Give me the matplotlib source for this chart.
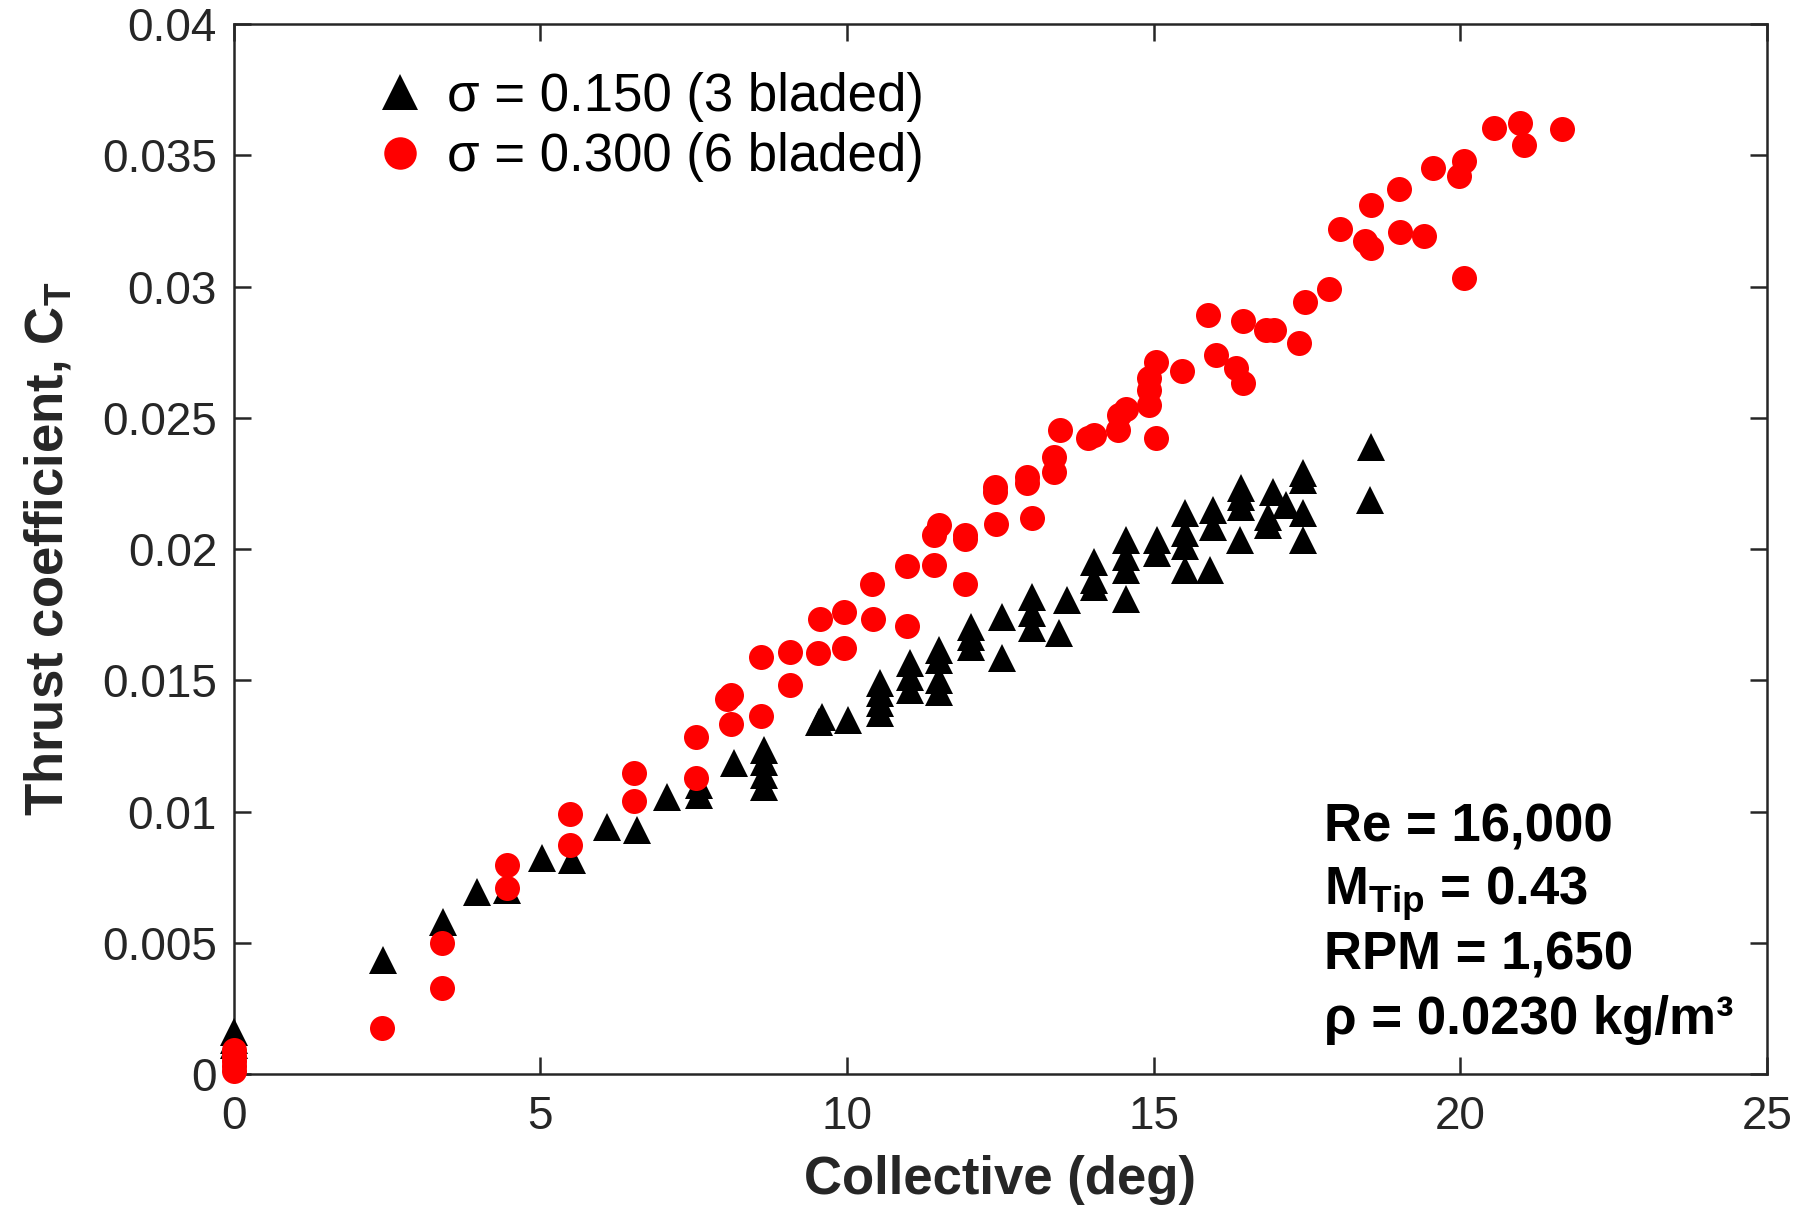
import matplotlib
matplotlib.use("Agg")
import matplotlib.pyplot as plt

plt.rcParams['font.family'] = ['Liberation Sans', 'DejaVu Sans']
plt.rcParams['mathtext.fontset'] = 'custom'
plt.rcParams['mathtext.rm'] = 'Liberation Sans'
plt.rcParams['mathtext.bf'] = 'Liberation Sans:bold'

# sigma = 0.150 (3 bladed)
x_3b = [0, 0, 0, 2.43, 3.41, 3.97, 4.46, 5.02, 5.51, 6.08, 6.57, 7.06, 7.59, 7.59,
        8.15, 8.64, 8.64, 8.64, 8.64, 9.55, 9.59, 10.02,
        10.53, 10.53, 10.53, 10.53, 11.02, 11.02, 11.02, 11.5, 11.5, 11.5, 11.5,
        12.02, 12.02, 12.02, 12.52, 12.53, 13.01, 13.01, 13.01, 13.45, 13.59,
        14.02, 14.02, 14.02, 14.55, 14.55, 14.55, 14.55, 15.05, 15.05,
        15.51, 15.51, 15.51, 15.51, 15.91, 15.97, 15.97, 16.41, 16.42, 16.42, 16.42,
        16.87, 16.87, 16.94, 17.16, 17.43, 17.44, 17.44, 17.44, 18.52, 18.54]
ct_3b = [0.0016, 0.0013, 0.0011, 0.00434, 0.0058, 0.00695, 0.00701, 0.00822, 0.00815,
         0.00942, 0.0093, 0.01057, 0.01063, 0.0110,
         0.01184, 0.01095, 0.0114, 0.0119, 0.01235, 0.0134, 0.0136, 0.01349,
         0.01374, 0.01412, 0.0145, 0.01489, 0.01463, 0.01514, 0.01565, 0.01457, 0.0150, 0.01577, 0.01616,
         0.01628, 0.01666, 0.01704, 0.01584, 0.01742, 0.01698, 0.01755, 0.01819, 0.01679, 0.01806,
         0.01857, 0.01882, 0.01952, 0.0181, 0.0192, 0.0197, 0.02035, 0.01984, 0.02035,
         0.0192, 0.0201, 0.0206, 0.02136, 0.0192, 0.02085, 0.0215, 0.02035, 0.02162, 0.022, 0.02232,
         0.02092, 0.02123, 0.02219, 0.02168, 0.02035, 0.02136, 0.02263, 0.02289, 0.02187, 0.0239]

# sigma = 0.300 (6 bladed)
x_6b = [0, 0, 0, 0, 0, 2.41, 3.40, 3.40, 4.45, 4.45, 5.48, 5.48, 6.53, 6.53, 7.54, 7.54,
        8.05, 8.11, 8.11, 8.59, 8.59, 9.07, 9.07, 9.56, 9.53, 9.95, 9.95,
        10.41, 10.42, 10.97, 10.98, 11.42, 11.41, 11.5, 11.92, 11.92, 11.92,
        12.42, 12.41, 12.41, 12.93, 12.93, 13.01, 13.37, 13.37, 13.47,
        13.93, 14.02, 14.42, 14.43, 14.55, 14.92, 14.92, 14.92, 15.03, 15.03, 15.46,
        15.89, 16.01, 16.34, 16.45, 16.45, 16.83, 16.96, 17.37, 17.47, 17.85,
        18.03, 18.45, 18.54, 18.54, 19.0, 19.02, 19.41, 19.56, 19.98, 20.06, 20.06,
        20.55, 20.97, 21.04, 21.66]
ct_6b = [0.0009, 0.0007, 0.0005, 0.0003, 0.0001, 0.00174, 0.00498, 0.00329, 0.00796, 0.00708,
         0.0099, 0.00873, 0.01148, 0.01041, 0.01283, 0.01127,
         0.0143, 0.01444, 0.01334, 0.01588, 0.01365, 0.01609, 0.01482, 0.01732, 0.01605, 0.01759, 0.01622,
         0.01867, 0.01734, 0.01936, 0.01707, 0.0194, 0.02054, 0.02092, 0.02054, 0.0204, 0.01867,
         0.02096, 0.02238, 0.02219, 0.02276, 0.02251, 0.02117, 0.02352, 0.02295, 0.02454,
         0.02422, 0.02435, 0.02454, 0.0251, 0.02533, 0.02549, 0.02606, 0.02651, 0.02714, 0.02422, 0.02679,
         0.02892, 0.0274, 0.02689, 0.02632, 0.0287, 0.02835, 0.02835, 0.02787, 0.02943, 0.02991,
         0.0322, 0.03174, 0.03149, 0.03311, 0.03373, 0.03207, 0.03194, 0.03453, 0.03423, 0.0348, 0.03032,
         0.03606, 0.03625, 0.0354, 0.03602]

x_ticks = [0, 5, 10, 15, 20, 25]
y_ticks = [0, 0.005, 0.01, 0.015, 0.02, 0.025, 0.03, 0.035, 0.04]
y_ticklabels = ['0', '0.005', '0.01', '0.015', '0.02', '0.025', '0.03', '0.035', '0.04']

fig = plt.figure(figsize=(18.05, 12.09), dpi=100)
ax = fig.add_axes([0.1295, 0.1117, 0.8495, 0.8683])

# markers at zero collective sit on the axis and are not clipped
ax.plot(x_6b, ct_6b, 'o', color='red', markersize=18, markeredgewidth=0,
        label='σ = 0.300 (6 bladed)', zorder=3, clip_on=False)
ax.plot(x_3b, ct_3b, '^', color='black', markersize=20, markeredgewidth=0,
        label='σ = 0.150 (3 bladed)', zorder=2, clip_on=False)

ax.set_xlim(0, 25)
ax.set_ylim(0, 0.04)
ax.set_xticks(x_ticks)
ax.set_yticks(y_ticks)
ax.set_yticklabels(y_ticklabels)
ax.tick_params(direction='in', length=12, width=1.8, labelsize=33, top=True, right=True,
               colors='#262626', labelcolor='#262626')
ax.tick_params(axis='y', pad=12)
ax.tick_params(axis='x', pad=15)
for s in ax.spines.values():
    s.set_linewidth(1.8)
    s.set_color('#262626')
    s.set_zorder(1)

ax.set_xlabel('Collective (deg)', fontsize=38, fontweight='bold', color='#262626', labelpad=12)
ax.set_ylabel(r'Thrust coefficient, C$_{\mathbf{T}}$', fontsize=38, fontweight='bold',
              color='#262626', labelpad=20)

handles, labels = ax.get_legend_handles_labels()
ax.legend(handles[::-1], labels[::-1], loc='upper left', bbox_to_anchor=(0.06, 1.0),
          frameon=False, fontsize=38, handletextpad=0.4, labelspacing=0.2, handlelength=1.0,
          markerscale=1.3)

ax.text(0.711, 0.2215, 'Re = 16,000', transform=ax.transAxes, fontsize=38, fontweight='bold')
ax.text(0.711, 0.1604, r'M$_{\mathbf{Tip}}$ = 0.43', transform=ax.transAxes, fontsize=38, fontweight='bold')
ax.text(0.711, 0.0993, 'RPM = 1,650', transform=ax.transAxes, fontsize=38, fontweight='bold')
ax.text(0.711, 0.0382, 'ρ = 0.0230 kg/m³', transform=ax.transAxes, fontsize=38, fontweight='bold')

plt.savefig('out.png', dpi=100)
